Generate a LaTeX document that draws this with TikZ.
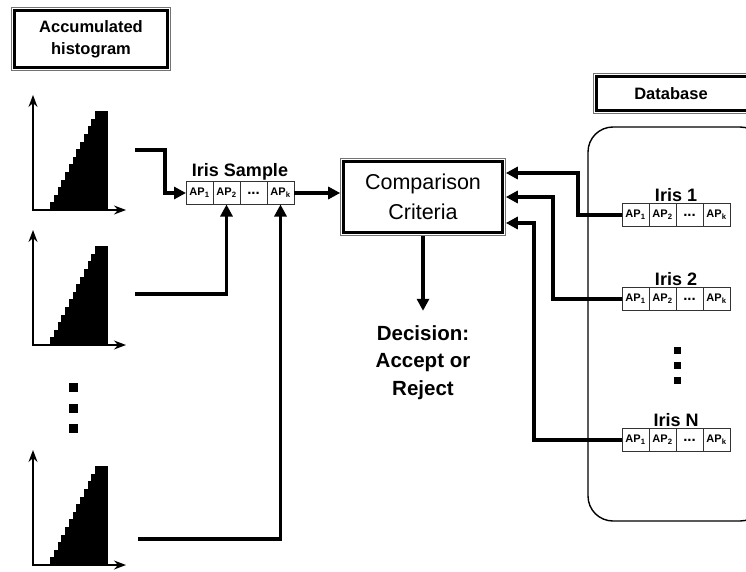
\documentclass[tikz,border=0pt]{standalone}
\usepackage{fontspec}
\setmainfont{Liberation Sans}
\usepackage{tikz}
\usetikzlibrary{positioning}
\usetikzlibrary{arrows.meta}
\usetikzlibrary{calc}
\tikzset{
  every node/.style={
    align=center,
    draw=none,
  },
  conn/.style={line width=3.2pt, -{Triangle[length=12pt,width=12pt]}},
  axis/.style={line width=1.4pt, {Stealth[length=12pt,width=9pt,inset=4pt]}-{Stealth[length=12pt,width=9pt,inset=4pt]}},
  framed/.style={
    draw=black, line width=2.4pt, fill=white, outer sep=3.3pt,
    preaction={draw=black!55, line width=6.6pt},
    preaction={draw=white, line width=5pt},
  },
  apcell/.style={
    draw=black!80, line width=0.9pt,
    minimum width=27pt, minimum height=23pt,
    inner sep=0pt, outer sep=0pt,
    font=\bfseries\fontsize{11}{12}\selectfont,
  },
  irislabel/.style={font=\bfseries\fontsize{18}{20}\selectfont, inner sep=1.5pt},
}
\newcommand{\acchist}[1]{%
  \draw[axis] (33,{#1-115}) -- (33,#1) -- (126,#1);
  \foreach \stp in {0,...,12}
    \fill ({50+3.75*\stp},#1) rectangle (108,{#1-7.6*(\stp+1)});
}
\newcommand{\aprow}[3]{%
  \node[apcell] (#1-1) at (#2,#3) {AP\textsubscript{1}};
  \node[apcell, right=0pt of #1-1] (#1-2) {AP\textsubscript{2}};
  \node[apcell, right=0pt of #1-2] (#1-3) {\raisebox{-3pt}{\fontsize{15}{15}\selectfont...}};
  \node[apcell, right=0pt of #1-3] (#1-k) {AP\textsubscript{k}};
}

\begin{document}
\begin{tikzpicture}[x=1pt,y=-1pt]
    \useasboundingbox (0,0) rectangle (746,572);
    \clip (0,0) rectangle (746,572);
    % left side: histograms
    \node[framed, minimum width=153pt, minimum height=57pt,
      font=\bfseries\fontsize{16.5}{22}\selectfont] (acc) at (91,39) {Accumulated\\histogram};
    \acchist{210}
    \acchist{345}
    \acchist{565}
    \foreach \dy in {387,408,428}
      \fill (68.5,{\dy-4.5}) rectangle ++(9,9);
    \coordinate (h1) at (135,150);
    \coordinate (h2) at (135,294);
    \coordinate (h3) at (138,539);
    % iris sample
    \aprow{sa}{199.5}{193}
    \node[irislabel, above=0pt of sa-2.north east] (salbl) {Iris Sample};
    \node[framed, minimum width=159pt, minimum height=71pt,
      font=\fontsize{21.5}{30}\selectfont] (comp) at (423,197) {Comparison\\Criteria};
    \node[font=\bfseries\fontsize{20.5}{27.5}\selectfont, below=86pt of comp] (dec) {Decision:\\Accept or\\Reject};
    % database
    \node[framed, minimum width=170pt, minimum height=34pt, inner xsep=0pt,
      font=\bfseries\fontsize{16.5}{20}\selectfont] (dbl) at (681.5,93.5) {\makebox[149pt][c]{Database}\hspace{21pt}};
    \draw[line width=1.4pt, rounded corners=25pt] (588,127) rectangle (765,521);
    \aprow{d1}{635.5}{215}
    \aprow{d2}{635.5}{299}
    \aprow{dN}{635.5}{440}
    \node[irislabel, above=0pt of d1-2.north east] (d1lbl) {Iris 1};
    \node[irislabel, above=0pt of d2-2.north east] (d2lbl) {Iris 2};
    \node[irislabel, above=0pt of dN-2.north east] (dNlbl) {Iris N};
    \foreach \dy in {350,365,380}
      \fill (673.5,{\dy-3.5}) rectangle ++(7,7);
    % connectors
    \draw[conn] (h1) -- ++(30,0) |- (sa-1.west);
    \draw[conn] (h2) -| (sa-2.south);
    \draw[conn] (h3) -| (sa-k.south);
    \draw[conn] (sa-k.east) -- (sa-k.east -| comp.west);
    \draw[conn, shorten >=11pt] (comp) -- (dec);
    \draw[conn] (d1-1.west) -- ++(-44,0) |- ([yshift=24pt]comp.east);
    \draw[conn] (d2-1.west) -- ++(-69,0) |- (comp.east);
    \draw[conn] (dN-1.west) -- ++(-88,0) |- ([yshift=-26pt]comp.east);
\end{tikzpicture}
\end{document}
